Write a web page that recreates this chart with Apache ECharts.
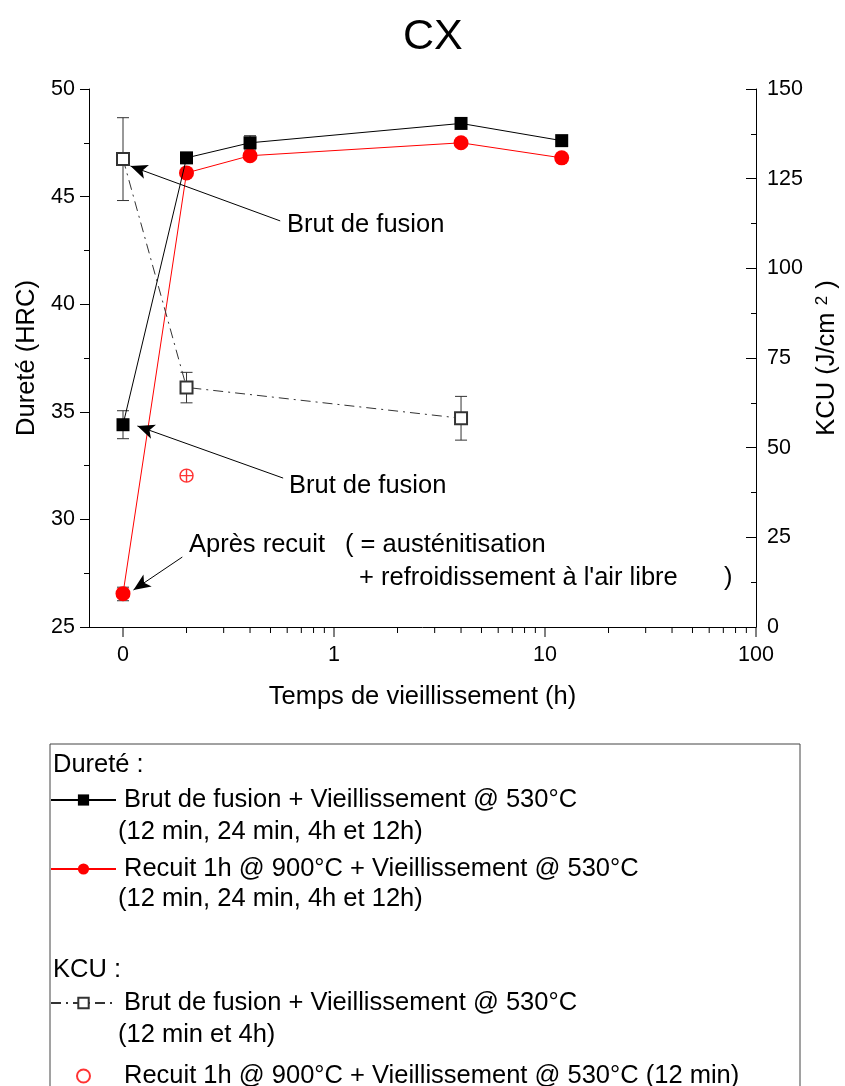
<!DOCTYPE html>
<html><head><meta charset="utf-8">
<script src="https://cdn.jsdelivr.net/npm/echarts@6/dist/echarts.min.js"></script>
<style>html,body{margin:0;padding:0;background:#fff}#c{width:845px;height:1086px}</style>
</head><body><div id="c"></div>
<script>
// ---- data ----
const timeH = [0.1, 0.2, 0.4, 4, 12];            // "0" h plotted at 0.1 on the log axis
const hrcBrut = [34.4, 46.8, 47.5, 48.4, 47.6];
const hrcBrutLow = [33.75, 46.6, 47.17, 48.4, 47.6];
const hrcBrutHigh = [35.05, 47.0, 47.83, 48.4, 47.6];
const hrcRecuit = [26.55, 46.1, 46.9, 47.5, 46.8];
const hrcRecuitLow = [26.22, 46.1, 46.9, 47.5, 46.8];
const hrcRecuitHigh = [26.85, 46.1, 46.9, 47.5, 46.8];
const kcuTime = [0.1, 0.2, 4];
const kcuBrut = [130.5, 66.8, 58.2];
const kcuBrutLow = [118.9, 62.5, 52.1];
const kcuBrutHigh = [142.0, 71.0, 64.3];
const kcuRecuitTime = [0.2];
const kcuRecuit = [42.2];
const xMajorTicks = [0.1, 1, 10, 100];
const xMajorLabels = ['0', '1', '10', '100'];
const xMinorTicks = [0.2,0.3,0.4,0.5,0.6,0.7,0.8,0.9, 2,3,4,5,6,7,8,9, 20,30,40,50,60,70,80,90];
const legendNames = {
  hb: 'Brut de fusion + Vieillissement @ 530°C',
  hr: 'Recuit 1h @ 900°C + Vieillissement @ 530°C',
  kb: 'Brut de fusion + Vieillissement @ 530°C',
  kr: 'Recuit 1h @ 900°C + Vieillissement @ 530°C (12 min)'
};
// arrows (data coordinates on time / HRC axes)
const arrows = [
  [[0.556, 43.87], [0.1085, 46.42]],
  [[0.574, 31.92], [0.1171, 34.34]],
  [[0.191, 28.25], [0.1121, 26.72]]
];

const FONT = '"Liberation Sans", Arial, sans-serif';
const FS = 25.5;
const chart = echarts.init(document.getElementById('c'), null, {renderer: 'canvas'});

function errRender(color) {
  return function (params, api) {
    const x = api.value(0), lo = api.value(1), hi = api.value(2);
    if (hi - lo <= 0) return null;
    const p1 = api.coord([x, lo]), p2 = api.coord([x, hi]);
    const w = 6, st = {stroke: color, lineWidth: 1};
    return {type: 'group', children: [
      {type: 'line', shape: {x1: p1[0], y1: p1[1], x2: p2[0], y2: p2[1]}, style: st},
      {type: 'line', shape: {x1: p1[0]-w, y1: p1[1], x2: p1[0]+w, y2: p1[1]}, style: st},
      {type: 'line', shape: {x1: p2[0]-w, y1: p2[1], x2: p2[0]+w, y2: p2[1]}, style: st}
    ]};
  };
}

const txt = (t, x, y, size) => ({
  type: 'text', x: x, y: y,
  style: {text: t, fill: '#000', font: size + 'px ' + FONT, verticalAlign: 'middle', align: 'left'}
});

const option = {
  animation: false,
  backgroundColor: '#fff',
  title: {text: 'CX', left: 398, top: 11, textStyle: {fontFamily: FONT, fontSize: 43, fontWeight: 'normal', color: '#000'}},
  grid: {left: 89, right: 89, top: 89, bottom: 459, containLabel: false, outerBoundsMode: 'none'},
  xAxis: {
    type: 'log', logBase: 10, min: 0.069, max: 100,
    name: 'Temps de vieillissement (h)', nameLocation: 'middle', nameGap: 57,
    nameTextStyle: {fontFamily: FONT, fontSize: FS, color: '#000'},
    axisLine: {lineStyle: {color: '#000', width: 1}},
    axisTick: {show: false},
    splitLine: {show: false},
    axisLabel: {
      margin: 17, fontFamily: FONT, fontSize: 21.5, color: '#000',
      formatter: function (v) {
        for (let i = 0; i < xMajorTicks.length; i++) {
          if (Math.abs(Math.log10(v) - Math.log10(xMajorTicks[i])) < 1e-6) return xMajorLabels[i];
        }
        return '';
      }
    }
  },
  yAxis: [{
    type: 'value', min: 25, max: 50, interval: 5, position: 'left',
    name: 'Dureté (HRC)', nameLocation: 'middle', nameGap: 49, nameRotate: 90,
    nameTextStyle: {fontFamily: FONT, fontSize: FS, color: '#000'},
    axisLine: {show: true, lineStyle: {color: '#000', width: 1}},
    axisTick: {show: true, length: 9, lineStyle: {color: '#000'}},
    minorTick: {show: true, splitNumber: 2, length: 5, lineStyle: {color: '#000'}},
    splitLine: {show: false},
    axisLabel: {margin: 14, fontFamily: FONT, fontSize: 21.5, color: '#000'}
  }, {
    type: 'value', min: 0, max: 150, interval: 25, position: 'right',
    name: '{a|KCU (J/cm }{s|2}{a| )}', nameLocation: 'middle', nameGap: 58, nameRotate: 90,
    nameTextStyle: {fontFamily: FONT, fontSize: FS, color: '#000',
      rich: {a: {fontFamily: FONT, fontSize: FS, color: '#000'}, s: {fontFamily: FONT, fontSize: 17, color: '#000', verticalAlign: 'top'}}},
    axisLine: {show: true, lineStyle: {color: '#000', width: 1}},
    axisTick: {show: true, inside: true, length: 10, lineStyle: {color: '#000'}},
    minorTick: {show: true, splitNumber: 2, length: 5, lineStyle: {color: '#000'}},
    splitLine: {show: false},
    axisLabel: {margin: 11, fontFamily: FONT, fontSize: 21.5, color: '#000'}
  }],
  legend: [{
    left: 50, top: 787, height: 200, padding: 0, orient: 'vertical', itemWidth: 65, itemHeight: 14, itemGap: 43,
    selectedMode: false,
    textStyle: {fontFamily: FONT, fontSize: FS, color: '#000', lineHeight: 24, padding: [0, 0, 0, 3]},
    formatter: n => legendNames[n],
    data: ['hb', 'hr']
  }, {
    left: 50, top: 990, height: 200, padding: 0, orient: 'vertical', itemWidth: 65, itemHeight: 13, itemGap: 47,
    selectedMode: false,
    textStyle: {fontFamily: FONT, fontSize: FS, color: '#000', lineHeight: 24, padding: [0, 0, 0, 3]},
    formatter: n => legendNames[n],
    data: ['kb', {name: 'kr', icon: 'path://M10,0A10,10,0,1,1,-10,0A10,10,0,1,1,10,0Z'}]
  }],
  series: [
    {
      name: 'errH', type: 'custom', xAxisIndex: 0, yAxisIndex: 0, z: 1, silent: true,
      renderItem: errRender('#333'),
      data: timeH.map((t, i) => [t, hrcBrutLow[i], hrcBrutHigh[i]])
        .concat(timeH.map((t, i) => [t, hrcRecuitLow[i], hrcRecuitHigh[i]]))
    },
    {
      name: 'errK', type: 'custom', xAxisIndex: 0, yAxisIndex: 1, z: 1, silent: true,
      renderItem: errRender('#333'),
      data: kcuTime.map((t, i) => [t, kcuBrutLow[i], kcuBrutHigh[i]])
    },
    {
      name: 'hb', type: 'line', xAxisIndex: 0, yAxisIndex: 0, z: 4,
      data: timeH.map((t, i) => [t, hrcBrut[i]]),
      symbol: 'rect', symbolSize: 13, showSymbol: true,
      itemStyle: {color: '#000'}, lineStyle: {color: '#000', width: 1},
      markLine: {
        silent: true, symbol: ['none', 'arrow'], symbolSize: [11, 17],
        lineStyle: {color: '#000', width: 1, type: 'solid'}, label: {show: false},
        data: arrows.map(a => [{coord: a[0]}, {coord: a[1]}])
      }
    },
    {
      name: 'hr', type: 'line', xAxisIndex: 0, yAxisIndex: 0, z: 3,
      data: timeH.map((t, i) => [t, hrcRecuit[i]]),
      symbol: 'circle', symbolSize: 15, showSymbol: true,
      itemStyle: {color: '#ff0000'}, lineStyle: {color: '#ff0000', width: 1}
    },
    {
      name: 'kb', type: 'line', xAxisIndex: 0, yAxisIndex: 1, z: 3,
      data: kcuTime.map((t, i) => [t, kcuBrut[i]]),
      symbol: 'emptyRect', symbolSize: 12, showSymbol: true,
      itemStyle: {color: '#333', borderWidth: 1},
      lineStyle: {color: '#333', width: 1, type: [10, 5, 2, 5]}
    },
    {
      name: 'kr', type: 'scatter', xAxisIndex: 0, yAxisIndex: 1, z: 3,
      data: kcuRecuitTime.map((t, i) => [t, kcuRecuit[i]]),
      symbol: 'path://M10,0A10,10,0,1,1,-10,0A10,10,0,1,1,10,0ZM-10,0L10,0M0,-10L0,10',
      symbolSize: 13,
      itemStyle: {color: 'rgba(0,0,0,0)', borderColor: '#ff0000', borderWidth: 1.4}
    },
    {
      name: 'xticks', type: 'custom', xAxisIndex: 0, yAxisIndex: 0, z: 5, silent: true, clip: false,
      renderItem: function (params, api) {
        const p = api.coord([api.value(0), 25]);
        const len = api.value(1) ? 10 : 6;
        return {type: 'line', shape: {x1: p[0], y1: p[1], x2: p[0], y2: p[1] + len}, style: {stroke: '#000', lineWidth: 1}};
      },
      data: xMajorTicks.map(v => [v, 1]).concat(xMinorTicks.map(v => [v, 0]))
    }
  ],
  graphic: [
    txt('Brut de fusion', 287, 225, FS),
    txt('Brut de fusion', 289, 486, FS),
    txt('Après recuit', 189, 545, FS),
    txt('( = austénitisation', 345, 545, FS),
    txt('+ refroidissement à l\'air libre', 359, 578, FS),
    txt(')', 724, 578, FS),
    {type: 'rect', shape: {x: 50, y: 744, width: 750, height: 400}, style: {fill: 'none', stroke: '#444', lineWidth: 1}},
    txt('Dureté :', 53, 765, FS),
    txt('(12 min, 24 min, 4h et 12h)', 118, 832, FS),
    txt('(12 min, 24 min, 4h et 12h)', 118, 899, FS),
    txt('KCU :', 53, 970, FS),
    txt('(12 min et 4h)', 118, 1035, FS)
  ]
};
chart.setOption(option);
</script>
</body></html>
